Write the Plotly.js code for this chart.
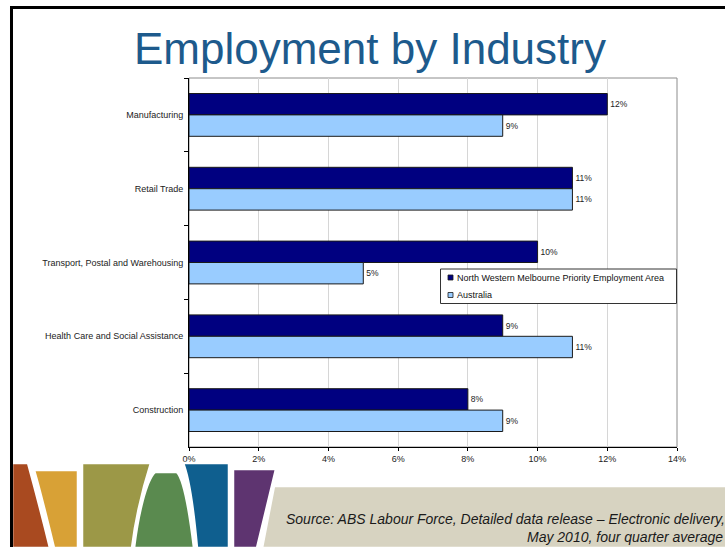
<!DOCTYPE html>
<html>
<head>
<meta charset="utf-8">
<script src="https://cdn.plot.ly/plotly-3.0.1.min.js"></script>
<style>html,body{margin:0;padding:0;background:#fff;}#chart{width:725px;height:547px;}</style>
</head>
<body>
<div id="chart"></div>
<script>
// ---- data ----
const categories = ['Manufacturing', 'Retail Trade', 'Transport, Postal and Warehousing', 'Health Care and Social Assistance', 'Construction'];
const nwmName = 'North Western Melbourne Priority Employment Area';
const ausName = 'Australia';
const nwmValues = [12, 11, 10, 9, 8];
const ausValues = [9, 11, 5, 11, 9];
const xTickVals = [0, 2, 4, 6, 8, 10, 12, 14];
const xTickText = ['0%', '2%', '4%', '6%', '8%', '10%', '12%', '14%'];
const titleText = 'Employment by Industry';
const sourceLine1 = 'Source: ABS Labour Force, Detailed data release \u2013 Electronic delivery,';
const sourceLine2 = 'May 2010, four quarter average';

// ---- styles ----
const nwmColor = '#000080';
const ausColor = '#99ccff';
const barLine = '#1a1a1a';

// ---- layout geometry ----
const W = 725, H = 547;
const M = {l: 189, r: 48, t: 78, b: 100};
const PW = W - M.l - M.r, PH = H - M.t - M.b;
const px = x => (x - M.l) / PW;
const py = y => (H - M.b - y) / PH;
const pt = (x, y) => px(x).toFixed(5) + ',' + py(y).toFixed(5);
const FONT = 'Arial, "Liberation Sans", sans-serif';

function pathShape(d, fill, line, lw) {
  return {type: 'path', xref: 'paper', yref: 'paper', path: d, fillcolor: fill,
          line: {color: line, width: lw}, layer: 'above'};
}
function rectShape(x0, y0, x1, y1, fill, line, lw) {
  return {type: 'rect', xref: 'paper', yref: 'paper', x0: px(x0), x1: px(x1), y0: py(y1), y1: py(y0),
          fillcolor: fill, line: {color: line, width: lw}, layer: 'above'};
}

const decor = [
  // rust
  pathShape('M' + pt(12, 463) + ' L' + pt(28, 463) + ' C' + pt(34, 485) + ' ' + pt(42, 515) + ' ' + pt(50, 548) + ' L' + pt(12, 548) + ' Z', '#a94a20', '#ffffff', 2.5),
  // gold
  pathShape('M' + pt(34, 470) + ' L' + pt(78, 470) + ' L' + pt(78, 548) + ' L' + pt(54, 548) + ' C' + pt(46, 515) + ' ' + pt(40, 490) + ' ' + pt(34, 470) + ' Z', '#d8a136', '#ffffff', 2.5),
  // olive
  pathShape('M' + pt(82, 463) + ' L' + pt(151, 463) + ' C' + pt(144, 485) + ' ' + pt(136, 515) + ' ' + pt(132, 548) + ' L' + pt(82, 548) + ' Z', '#9c9847', '#ffffff', 2.5),
  // green
  pathShape('M' + pt(155, 472) + ' L' + pt(177, 472) + ' C' + pt(185, 480) + ' ' + pt(190, 515) + ' ' + pt(194, 548) + ' L' + pt(134, 548) + ' C' + pt(138, 515) + ' ' + pt(146, 480) + ' ' + pt(155, 472) + ' Z', '#5a8a4f', '#ffffff', 2.5),
  // blue
  pathShape('M' + pt(183, 463) + ' L' + pt(229, 463) + ' L' + pt(229, 548) + ' L' + pt(197, 548) + ' C' + pt(194, 515) + ' ' + pt(190, 480) + ' ' + pt(183, 463) + ' Z', '#0f5f8f', '#ffffff', 2.5),
  // purple
  pathShape('M' + pt(233, 469) + ' L' + pt(276, 469) + ' L' + pt(257, 548) + ' L' + pt(233, 548) + ' Z', '#5e3470', '#ffffff', 2.5),
  // beige band
  pathShape('M' + pt(274, 486) + ' L' + pt(727, 486) + ' L' + pt(727, 548) + ' L' + pt(262, 548) + ' Z', '#d7d3c1', '#ffffff', 2.5),
  // slide frame
  {type: 'path', xref: 'paper', yref: 'paper', path: 'M' + pt(11.5, 548) + ' L' + pt(11.5, 7.5) + ' L' + pt(727, 7.5),
   line: {color: '#000000', width: 3}, layer: 'above'},
  // plot area frame (grey top/right)
  {type: 'rect', xref: 'paper', yref: 'paper', x0: 0, x1: 1, y0: 0, y1: 1,
   line: {color: '#8c8c8c', width: 1}, layer: 'below'},
  // legend box and swatches
  rectShape(440.5, 269, 676.5, 303.5, '#ffffff', '#333333', 1),
  rectShape(448, 275, 453, 280, nwmColor, barLine, 0.8),
  rectShape(448, 292.5, 453, 297.5, ausColor, barLine, 0.8)
];

const traces = [
  {type: 'bar', orientation: 'h', name: nwmName, y: categories, x: nwmValues,
   marker: {color: nwmColor, line: {color: barLine, width: 1}},
   text: nwmValues.map(v => v + '%'), textposition: 'outside', cliponaxis: false,
   constraintext: 'none', textfont: {family: FONT, size: 8.5, color: '#222'}, hoverinfo: 'x+y'},
  {type: 'bar', orientation: 'h', name: ausName, y: categories, x: ausValues,
   marker: {color: ausColor, line: {color: barLine, width: 1}},
   text: ausValues.map(v => v + '%'), textposition: 'outside', cliponaxis: false,
   constraintext: 'none', textfont: {family: FONT, size: 8.5, color: '#222'}, hoverinfo: 'x+y'}
];

const layout = {
  width: W, height: H,
  margin: M,
  paper_bgcolor: '#ffffff', plot_bgcolor: '#ffffff',
  font: {family: FONT, size: 9, color: '#222'},
  barmode: 'group', bargap: 0.42, bargroupgap: 0,
  showlegend: false,
  xaxis: {range: [0, 14], tickvals: xTickVals, ticktext: xTickText,
          showgrid: true, gridcolor: '#d6d6d6', gridwidth: 1, zeroline: false,
          showline: true, linecolor: '#000000', linewidth: 1,
          ticks: 'outside', ticklen: 3, tickcolor: '#000000',
          tickfont: {family: FONT, size: 9, color: '#222'}, fixedrange: true},
  yaxis: {type: 'category', autorange: 'reversed', showgrid: false, zeroline: false,
          showline: true, linecolor: '#000000', linewidth: 1,
          ticks: 'outside', tickson: 'boundaries', ticklen: 4, tickcolor: '#000000',
          ticklabelstandoff: 3,
          tickfont: {family: FONT, size: 9, color: '#222'}, fixedrange: true},
  shapes: decor,
  annotations: [
    {xref: 'paper', yref: 'paper', x: px(370), y: py(48), xanchor: 'center', yanchor: 'middle',
     text: titleText, showarrow: false, font: {family: FONT, size: 44, color: '#1d5a8c'}},
    {xref: 'paper', yref: 'paper', x: px(727), y: py(519.4), xanchor: 'right', yanchor: 'middle',
     text: '<i>' + sourceLine1 + '</i>', showarrow: false, font: {family: FONT, size: 14, color: '#1a1a1a'}},
    {xref: 'paper', yref: 'paper', x: px(725), y: py(536.8), xanchor: 'right', yanchor: 'middle',
     text: '<i>' + sourceLine2 + '</i>', showarrow: false, font: {family: FONT, size: 14, color: '#1a1a1a'}},
    // legend entries
    {xref: 'paper', yref: 'paper', x: px(455), y: py(277.5), xanchor: 'left', yanchor: 'middle',
     text: nwmName, showarrow: false, font: {family: FONT, size: 9, color: '#111'}},
    {xref: 'paper', yref: 'paper', x: px(455), y: py(295), xanchor: 'left', yanchor: 'middle',
     text: ausName, showarrow: false, font: {family: FONT, size: 9, color: '#111'}}
  ]
};

Plotly.newPlot('chart', traces, layout, {displayModeBar: false, staticPlot: true});
</script>
</body>
</html>
